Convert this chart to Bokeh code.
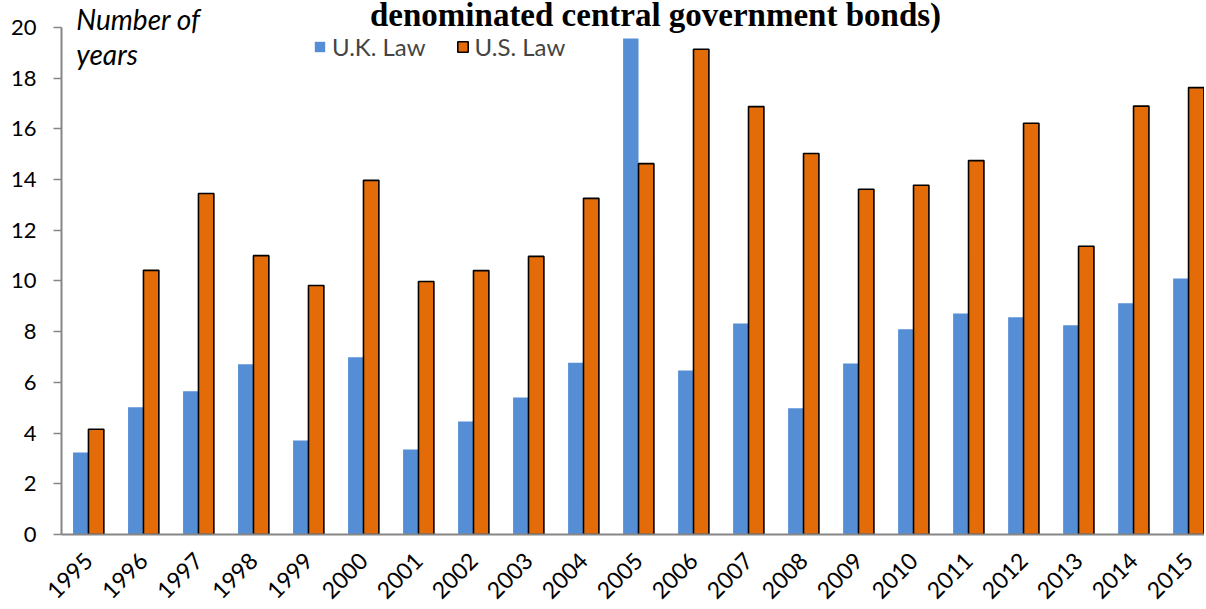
import math
from bokeh.plotting import figure
from bokeh.models import Range1d, FixedTicker, Legend, LegendItem, Label, ColumnDataSource
from bokeh.embed import file_html
from bokeh.resources import INLINE

years = ["1995", "1996", "1997", "1998", "1999", "2000", "2001", "2002", "2003", "2004",
         "2005", "2006", "2007", "2008", "2009", "2010", "2011", "2012", "2013", "2014", "2015"]
uk_law = [3.23, 5.02, 5.65, 6.72, 3.71, 6.99, 3.35, 4.46, 5.40, 6.78,
          19.57, 6.47, 8.32, 4.98, 6.75, 8.10, 8.72, 8.57, 8.25, 9.12, 10.10]
us_law = [4.15, 10.42, 13.45, 11.00, 9.82, 13.97, 9.98, 10.41, 10.97, 13.26,
          14.63, 19.14, 16.88, 15.03, 13.62, 13.78, 14.75, 16.22, 11.37, 16.90, 17.63]
title_text = "denominated central government bonds)"
y_label = ["Number of", "years"]
y_ticks = [0, 2, 4, 6, 8, 10, 12, 14, 16, 18, 20]

idx = list(range(len(years)))
BW = 0.28
src = ColumnDataSource(dict(
    uk_x=[i - BW / 2 for i in idx], us_x=[i + BW / 2 for i in idx],
    uk=uk_law, us=us_law))

# frame spans the whole top of the canvas; the axis itself is bounded to 0..20
p = figure(width=1204, height=609, output_backend="svg", toolbar_location=None,
           x_range=Range1d(-0.49, 20.29), y_range=Range1d(0, 21.065))
p.title = None
p.min_border_left = 61
p.min_border_right = 0
p.min_border_top = 0
p.min_border_bottom = 75
p.outline_line_color = None
p.xgrid.visible = False
p.ygrid.visible = False
p.background_fill_color = "white"
p.border_fill_color = "white"

r_uk = p.vbar(x="uk_x", top="uk", width=BW, bottom=0, source=src,
              fill_color="#558ED5", line_color=None)
r_us = p.vbar(x="us_x", top="us", width=BW, bottom=0, source=src,
              fill_color="#E36C09", line_color="black", line_width=1.6)

TICK_FONT = "Lato"
ax = p.yaxis[0]
ax.ticker = FixedTicker(ticks=y_ticks)
ax.bounds = (0, 20)
ax.minor_tick_line_color = None
ax.major_tick_out = 8
ax.major_tick_in = 0
ax.major_tick_line_color = "#868686"
ax.major_tick_line_width = 1.5
ax.axis_line_color = "#868686"
ax.axis_line_width = 2
ax.major_label_text_font = TICK_FONT
ax.major_label_text_font_size = "22px"
ax.major_label_text_color = "black"
ax.major_label_standoff = 17

xa = p.xaxis[0]
xa.ticker = FixedTicker(ticks=idx)
xa.major_label_overrides = {i: y for i, y in zip(idx, years)}
xa.minor_tick_line_color = None
xa.major_tick_line_color = None
xa.axis_line_color = "#868686"
xa.axis_line_width = 2
xa.major_label_text_font = TICK_FONT
xa.major_label_text_font_size = "23px"
xa.major_label_text_color = "black"
xa.major_label_orientation = math.pi / 4
xa.major_label_standoff = 16

legend = Legend(items=[LegendItem(label="U.K. Law", renderers=[r_uk]),
                       LegendItem(label="U.S. Law", renderers=[r_us])],
                orientation="horizontal", location=(252, 473),
                label_text_font=TICK_FONT, label_text_font_size="24px",
                glyph_width=13, glyph_height=13, spacing=30, padding=0,
                label_standoff=6, border_line_color=None,
                background_fill_alpha=0)
p.add_layout(legend)

p.add_layout(Label(x=10.31, y=20.5, text=title_text, text_align="center",
                   text_baseline="alphabetic", text_font="Liberation Serif",
                   text_font_style="bold", text_font_size="33px", text_color="black"))
p.add_layout(Label(x=-0.22, y=20.35, text=y_label[0], text_align="left",
                   text_baseline="alphabetic", text_font=TICK_FONT,
                   text_font_style="italic", text_font_size="28px", text_color="black"))
p.add_layout(Label(x=-0.22, y=18.95, text=y_label[1], text_align="left",
                   text_baseline="alphabetic", text_font=TICK_FONT,
                   text_font_style="italic", text_font_size="28px", text_color="black"))

open("out.html", "w").write(file_html(p, INLINE))
